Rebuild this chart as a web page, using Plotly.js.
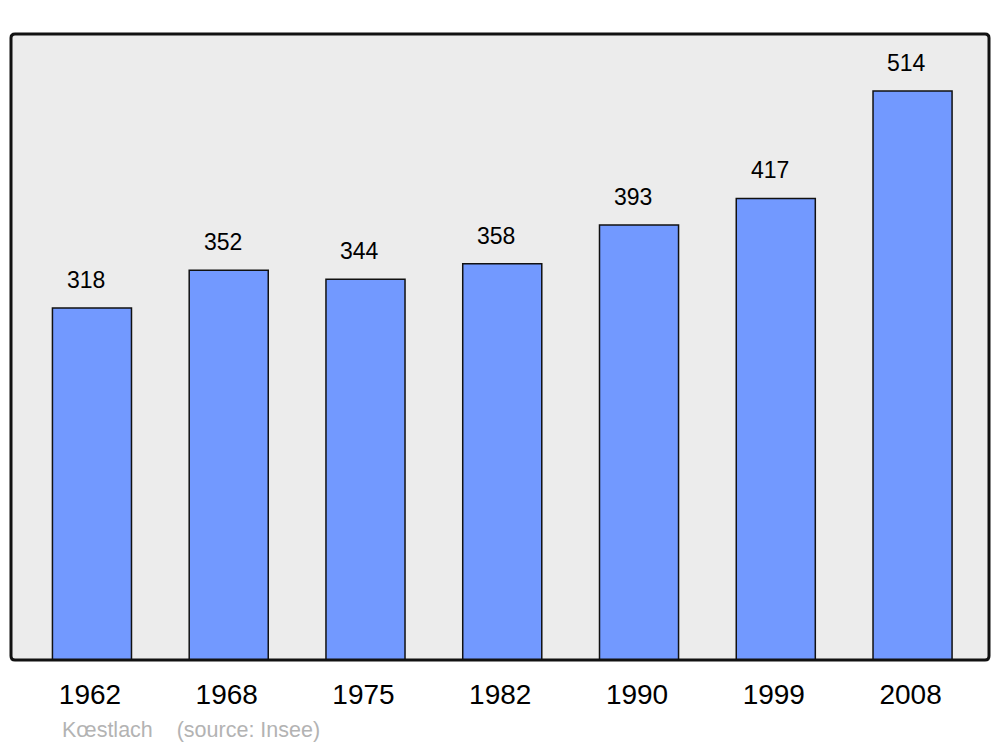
<!DOCTYPE html>
<html>
<head>
<meta charset="utf-8">
<script src="https://cdn.plot.ly/plotly-3.0.1.min.js"></script>
<style>html,body{margin:0;padding:0;background:#fff;}#chart{width:1000px;height:747px;}</style>
</head>
<body>
<div id="chart"></div>
<script>
const years = ["1962", "1968", "1975", "1982", "1990", "1999", "2008"];
const population = [318, 352, 344, 358, 393, 417, 514];
const sourceText = "Kœstlach    (source: Insee)";

const W = 1000, H = 747;
const ml = 11, mr = 11, mt = 34, mb = 87;
const FONT = 'Liberation Sans, Arial, sans-serif';

const trace = {
  type: 'bar',
  x: years,
  y: population,
  width: 0.578,
  marker: { color: '#7299ff', line: { color: '#111111', width: 1.5 } },
  hoverinfo: 'skip'
};

const annotations = years.map((yr, i) => ({
  x: i, y: population[i], xref: 'x', yref: 'y',
  text: String(population[i]), showarrow: false,
  xanchor: 'center', yanchor: 'middle', xshift: -6, yshift: 28,
  font: { family: FONT, size: 23, color: '#000' }
}));
annotations.push({
  xref: 'paper', yref: 'paper',
  x: (60 - ml) / (W - ml - mr), y: -(730 - (H - mb)) / (H - mt - mb),
  xanchor: 'left', yanchor: 'middle', showarrow: false,
  text: sourceText.replace(/ /g, '&nbsp;'),
  font: { family: FONT, size: 21.5, color: '#b3b3b3' }
});

// rounded frame path (paper coords)
const pw = W - ml - mr, ph = H - mt - mb, r = 4;
const rx = r / pw, ry = r / ph;
const framePath = `M ${rx},0 L ${1-rx},0 Q 1,0 1,${ry} L 1,${1-ry} Q 1,1 ${1-rx},1 L ${rx},1 Q 0,1 0,${1-ry} L 0,${ry} Q 0,0 ${rx},0 Z`;

const layout = {
  width: W, height: H,
  margin: { l: ml, r: mr, t: mt, b: mb, pad: 0 },
  paper_bgcolor: '#ffffff',
  plot_bgcolor: '#ececec',
  showlegend: false,
  xaxis: {
    type: 'category',
    range: [-0.592, 6.559],
    showgrid: false, zeroline: false, showline: false,
    ticks: '', ticklabelstandoff: 15, ticklabelshift: -2,
    tickfont: { family: FONT, size: 28, color: '#000' },
    fixedrange: true
  },
  yaxis: {
    range: [0, 565.5],
    showgrid: false, zeroline: false, showline: false,
    showticklabels: false, ticks: '',
    fixedrange: true
  },
  shapes: [{
    type: 'path', xref: 'paper', yref: 'paper',
    path: framePath,
    line: { color: '#111111', width: 3 },
    fillcolor: 'rgba(0,0,0,0)', layer: 'above'
  }],
  annotations: annotations
};

Plotly.newPlot('chart', [trace], layout, { displayModeBar: false, staticPlot: true });
</script>
</body>
</html>
